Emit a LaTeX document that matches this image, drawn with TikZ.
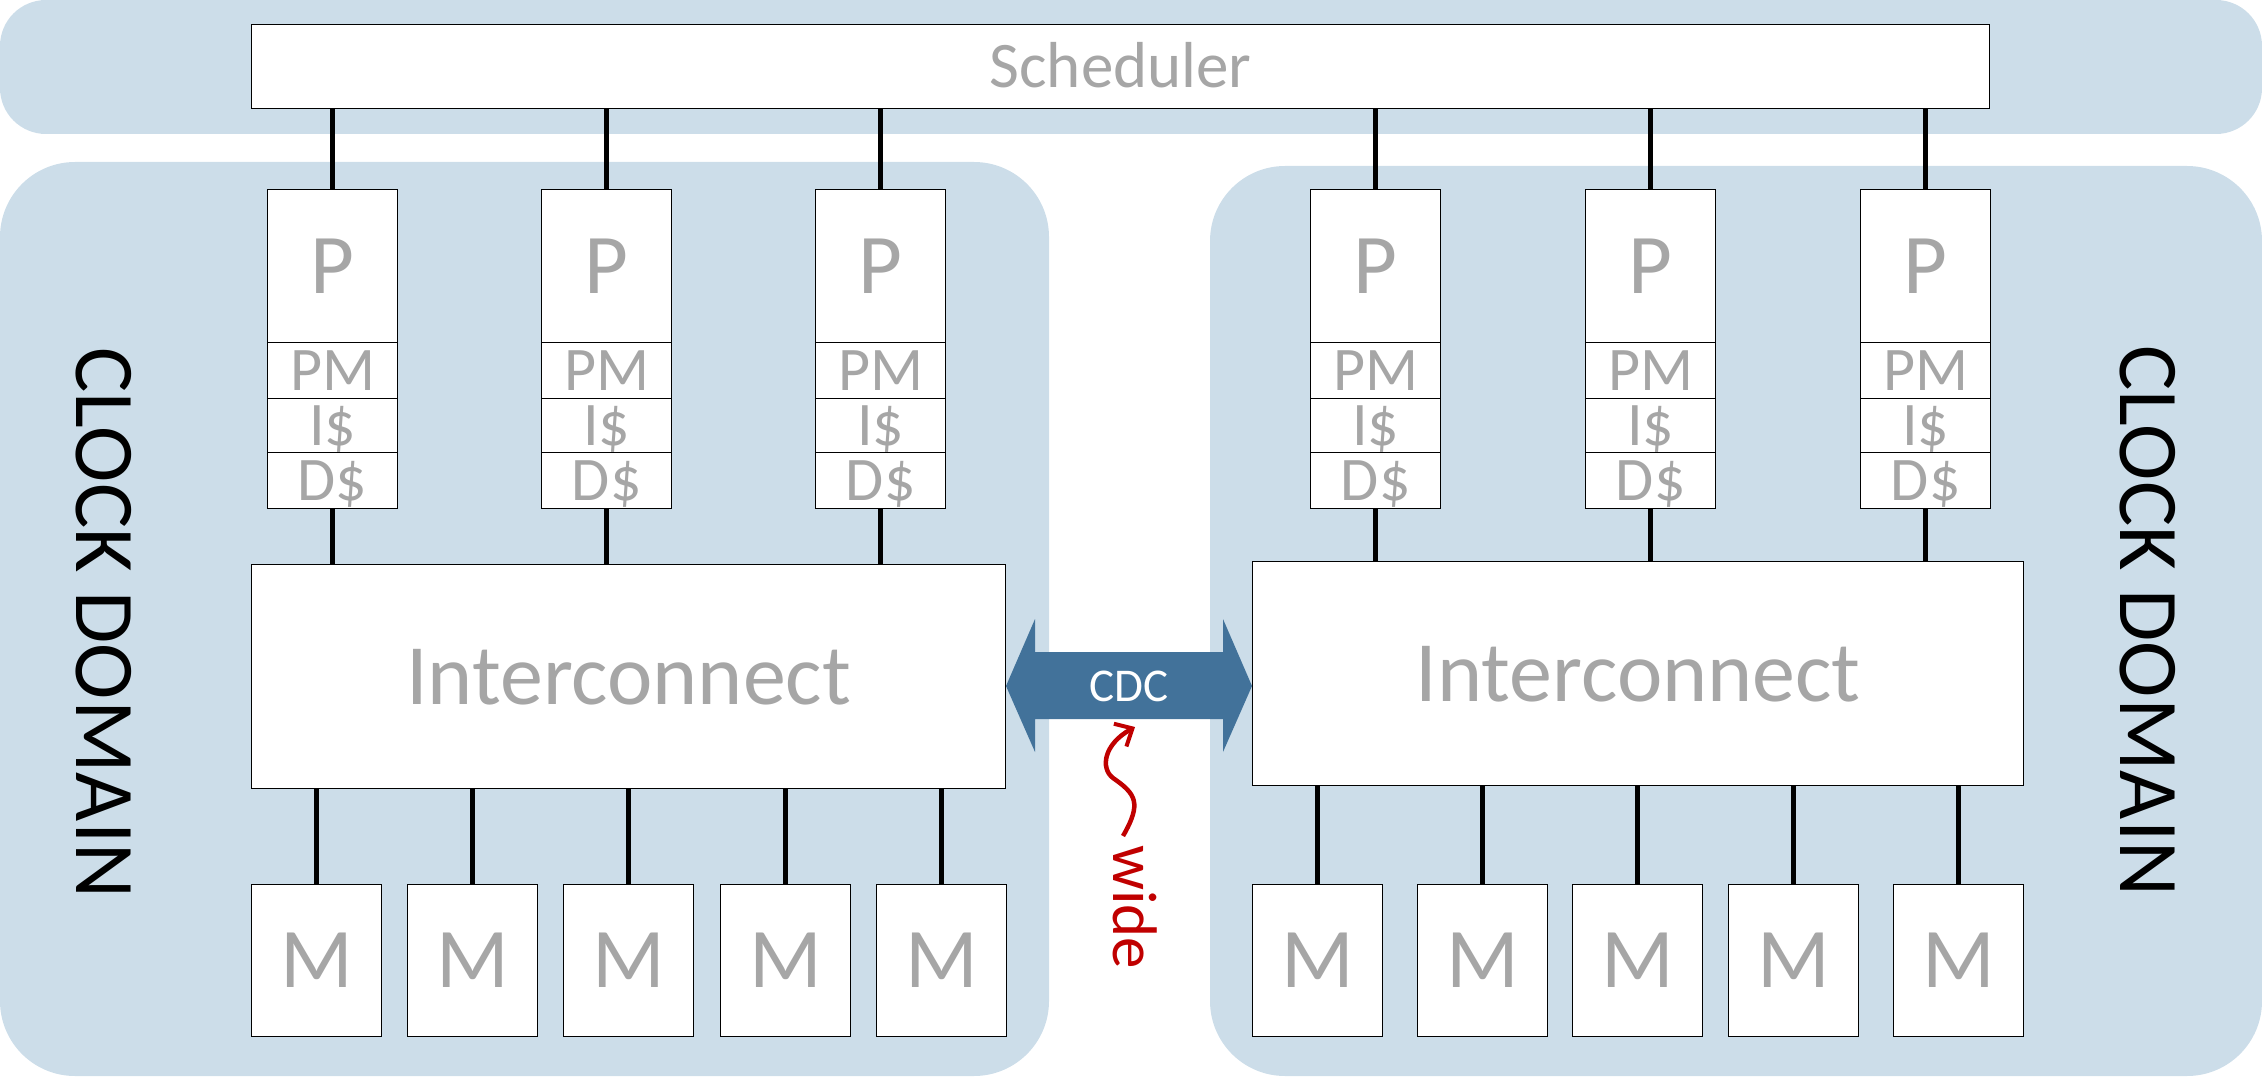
\documentclass[tikz,border=0pt]{standalone}
\usepackage{fontspec}
\setmainfont{Carlito}
\usetikzlibrary{arrows.meta}
\definecolor{dombg}{RGB}{204,221,233}
\definecolor{txtgrey}{RGB}{166,166,166}
\definecolor{cdcblue}{RGB}{66,114,154}
\definecolor{widered}{RGB}{192,0,0}
\tikzset{
  clkregion/.style={fill=dombg, draw=none, rounded corners=75pt},
  box/.style={draw=black, line width=1.3pt, fill=white, inner sep=0pt, text=txtgrey, anchor=north west},
  pbox/.style={box, minimum width=130pt, minimum height=153pt, font=\fontsize{85}{85}\selectfont, text height=54pt, text depth=0pt},
  sbox/.style={box, minimum width=130pt, font=\fontsize{62}{62}\selectfont, text height=39pt, text depth=0pt},
  mbox/.style={box, minimum width=130pt, minimum height=152pt, font=\fontsize{85}{85}\selectfont, text height=54pt, text depth=0pt},
  icbox/.style={box, minimum height=224pt, font=\fontsize{86}{86}\selectfont, text height=55pt, text depth=0pt},
  wire/.style={line width=5pt, black},
  clk/.style={font=\fontsize{85}{85}\selectfont, rotate=-90, text=black, inner sep=0pt},
}
\begin{document}
\begin{tikzpicture}[x=1pt, y=-1pt]
\useasboundingbox (0,0) rectangle (2262,1078);
% backgrounds
\fill[dombg, rounded corners=46pt] (0,0) rectangle (2262,134);
\fill[clkregion] (0,162) rectangle (1049,1076);
\fill[clkregion] (1210,166) rectangle (2262,1076);
% scheduler
\node[box, minimum width=1738pt, minimum height=84pt, font=\fontsize{65}{65}\selectfont, text height=41pt, text depth=0pt] (sched) at (251,24) {Scheduler};
% processors
\foreach \n/\x in {1/267, 2/541, 3/815, 4/1310, 5/1585, 6/1860} {
  \node[pbox] (p\n) at (\x,189) {P};
  \node[sbox, minimum height=56pt] (pm\n) at (\x,342) {PM};
  \node[sbox, minimum height=54pt] (is\n) at (\x,398) {I\$};
  \node[sbox, minimum height=56pt] (ds\n) at (\x,452) {D\$};
}
% interconnects
\node[icbox, minimum width=754pt] (icL) at (251,564) {Interconnect};
\node[icbox, minimum width=771pt] (icR) at (1252,561) {Interconnect};
% memories
\foreach \n/\x in {1/251, 2/407, 3/563, 4/720, 5/876} {
  \node[mbox] (mL\n) at (\x,884) {M};
  \draw[wire] (mL\n.north) -- (mL\n.north |- icL.south);
}
\foreach \n/\x in {1/1252, 2/1417, 3/1572, 4/1728, 5/1893} {
  \node[mbox] (mR\n) at (\x,884) {M};
  \draw[wire] (mR\n.north) -- (mR\n.north |- icR.south);
}
% wires
\foreach \n in {1,2,3} {
  \draw[wire] (sched.south -| p\n.north) -- (p\n.north);
  \draw[wire] (ds\n.south) -- (ds\n.south |- icL.north);
}
\foreach \n in {4,5,6} {
  \draw[wire] (sched.south -| p\n.north) -- (p\n.north);
  \draw[wire] (ds\n.south) -- (ds\n.south |- icR.north);
}
% CDC arrow
\fill[cdcblue] (1006,686) -- (1035,619) -- (1035,652) -- (1223,652) -- (1223,619) -- (1252,686)
  -- (1223,752) -- (1223,719) -- (1035,719) -- (1035,752) -- cycle;
\node[text=white, font=\fontsize{47}{47}\selectfont, inner sep=0pt, text height=30pt, text depth=0pt] (cdc) at (1129,686) {CDC};
% wide
\node[text=widered, font=\fontsize{63}{63}\selectfont, rotate=-90, inner sep=0pt] (wide) at (1135,907) {wide};
\coordinate (wstart) at (1123,836);
\coordinate (wend) at (1135,727);
\draw[widered, line width=4.5pt, -{Straight Barb[length=14pt, width=26pt, line width=4pt]}]
  (wstart) .. controls (1142,803) and (1136,794) .. (1113,778)
  .. controls (1100,768) and (1104,744) .. (wend);
% clock domain labels
\node[clk] (clkL) at (104,623) {CLOCK DOMAIN};
\node[clk] (clkR) at (2148,621) {CLOCK DOMAIN};
\end{tikzpicture}
\end{document}
